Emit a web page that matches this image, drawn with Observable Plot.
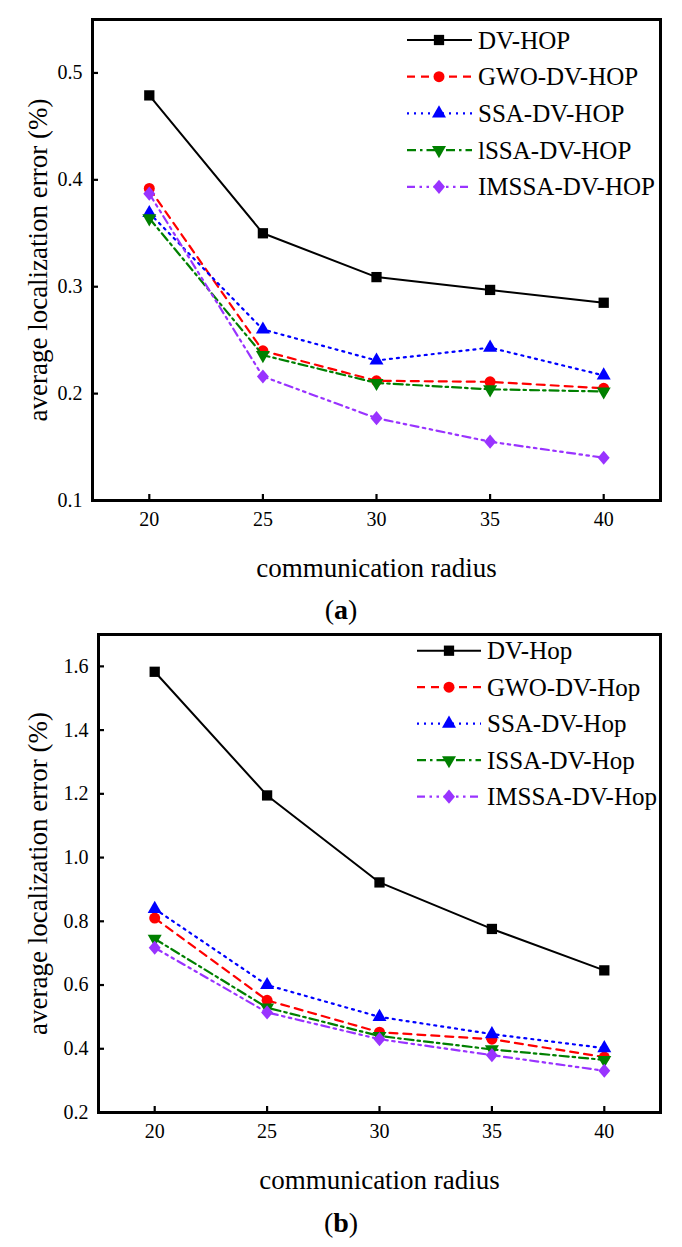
<!DOCTYPE html>
<html><head><meta charset="utf-8">
<script src="https://cdn.jsdelivr.net/npm/d3@7"></script>
<script src="https://cdn.jsdelivr.net/npm/@observablehq/plot@0.6"></script>
<style>
body{margin:0;background:#fff;}
.cap{width:682px;text-align:center;font-size:28px;font-family:"Liberation Serif",serif;color:#000}
</style></head><body>
<div id="a"></div><div class="cap" style="height:36px;line-height:36px">(<b>a</b>)</div>
<div id="b"></div><div class="cap" style="height:40px;line-height:40px">(<b>b</b>)</div>
<script>
// ---- data ----
const radius = [20, 25, 30, 35, 40];
const namesA = ["DV-HOP", "GWO-DV-HOP", "SSA-DV-HOP", "lSSA-DV-HOP", "IMSSA-DV-HOP"];
const namesB = ["DV-Hop", "GWO-DV-Hop", "SSA-DV-Hop", "ISSA-DV-Hop", "IMSSA-DV-Hop"];
const dvA    = [0.479, 0.350, 0.309, 0.297, 0.285];
const gwoA   = [0.392, 0.240, 0.212, 0.211, 0.205];
const ssaA   = [0.369, 0.260, 0.231, 0.243, 0.217];
const issaA  = [0.364, 0.236, 0.210, 0.204, 0.202];
const imssaA = [0.387, 0.216, 0.177, 0.155, 0.140];
const dvB    = [1.583, 1.195, 0.922, 0.776, 0.646];
const gwoB   = [0.810, 0.552, 0.452, 0.430, 0.374];
const ssaB   = [0.839, 0.600, 0.500, 0.446, 0.402];
const issaB  = [0.745, 0.529, 0.440, 0.398, 0.365];
const imssaB = [0.717, 0.514, 0.430, 0.380, 0.331];
const yTicksA = [0.1, 0.2, 0.3, 0.4, 0.5];
const yTicksB = [0.2, 0.4, 0.6, 0.8, 1.0, 1.2, 1.4, 1.6];
const xLabel = "communication radius";
const yLabel = "average localization error (%)";

// ---- styles ----
const sqrt3 = Math.sqrt(3);
const triDown = {draw(ctx, size) {
  const y = Math.sqrt(size / (sqrt3 * 3));
  ctx.moveTo(0, y * 2); ctx.lineTo(-sqrt3 * y, -y); ctx.lineTo(sqrt3 * y, -y); ctx.closePath();
}};
const diamond = {draw(ctx, size) {
  const h = Math.sqrt(size / 0.42);
  ctx.moveTo(0, -h / 2); ctx.lineTo(0.42 * h, 0); ctx.lineTo(0, h / 2); ctx.lineTo(-0.42 * h, 0); ctx.closePath();
}};
const styles = [
  {color: "#000000", dash: null, symbol: "square", r: 5.8, w: 2},
  {color: "#ff0000", dash: "8,6", symbol: "circle", r: 5.5, w: 2.2},
  {color: "#0000ff", dash: "2,5", symbol: "triangle", r: 5.2, w: 2.2},
  {color: "#008000", dash: "9,4,2.5,4", symbol: triDown, r: 5.2, w: 2.2},
  {color: "#9933ff", dash: "8,4.5,2.5,4.5,2.5,4.5", symbol: diamond, r: 5.2, w: 2.2}
];
const FONT = "Liberation Serif, serif";

function chart({names, series, yDomain, yTicks, height, marginTop, marginBottom, marginLeft, yTitleDx, legend}) {
  const marginRight = 22, width = 682;
  const innerH = height - marginTop - marginBottom;
  const innerW = width - marginLeft - marginRight;
  const marks = [
    Plot.axisX({ticks: radius, tickSize: 0, tickPadding: 11, label: null, fontSize: 20}),
    Plot.axisY({ticks: yTicks, tickSize: 0, tickPadding: 10, tickFormat: d3.format(".1f"), label: null, fontSize: 20}),
    Plot.tickX(radius, {strokeWidth: 2.2, insetTop: innerH - 6}),
    Plot.tickY(yTicks, {strokeWidth: 2.2, insetRight: innerW - 6}),
    Plot.text([xLabel], {frameAnchor: "bottom", dy: 68, fontSize: 27, textAnchor: "middle", lineAnchor: "middle"}),
    Plot.text([yLabel], {frameAnchor: "left", dx: yTitleDx, rotate: -90, fontSize: 27, textAnchor: "middle", lineAnchor: "middle"})
  ];
  series.forEach((vals, i) => {
    const s = styles[i];
    const data = radius.map((x, j) => ({x, y: vals[j]}));
    marks.push(Plot.line(data, {x: "x", y: "y", stroke: s.color, strokeWidth: s.w, strokeDasharray: s.dash}));
    marks.push(Plot.dot(data, {x: "x", y: "y", symbol: () => s.symbol, r: s.r, fill: s.color, stroke: "none"}));
  });
  marks.push(Plot.frame({strokeWidth: 3}));
  const svg = Plot.plot({
    width, height, marginTop, marginBottom, marginLeft, marginRight,
    style: {fontFamily: FONT, fontSize: "20px", color: "#000", background: "#fff"},
    x: {domain: [17.5, 42.5]},
    y: {domain: yDomain},
    symbol: {type: "identity"},
    marks
  });
  // legend
  const g = d3.select(svg).append("g").attr("font-family", FONT).attr("font-size", 25).attr("text-anchor", "start");
  names.forEach((name, i) => {
    const s = styles[i];
    const y = legend.y0 + i * legend.dy;
    g.append("line").attr("x1", legend.x1).attr("x2", legend.x2).attr("y1", y).attr("y2", y)
      .attr("stroke", s.color).attr("stroke-width", s.w).attr("stroke-dasharray", s.dash);
    const sym = typeof s.symbol === "string" ? {square: d3.symbolSquare, circle: d3.symbolCircle, triangle: d3.symbolTriangle}[s.symbol] : s.symbol;
    g.append("path").attr("transform", `translate(${legend.xm},${y})`)
      .attr("d", d3.symbol(sym, Math.PI * s.r * s.r)()).attr("fill", s.color);
    g.append("text").attr("x", legend.xt).attr("y", y).attr("dy", "0.34em").attr("fill", "#000")
      .attr("text-anchor", "start").text(name);
  });
  return svg;
}

document.getElementById("a").append(chart({
  names: namesA, series: [dvA, gwoA, ssaA, issaA, imssaA],
  yDomain: [0.1, 0.55], yTicks: yTicksA, height: 592, marginTop: 19, marginBottom: 92, marginLeft: 92, yTitleDx: -54,
  legend: {x1: 407, x2: 472, xm: 439, xt: 478, y0: 40, dy: 36.7}
}));
document.getElementById("b").append(chart({
  names: namesB, series: [dvB, gwoB, ssaB, issaB, imssaB],
  yDomain: [0.2, 1.7], yTicks: yTicksB, height: 575, marginTop: 6, marginBottom: 91, marginLeft: 98, yTitleDx: -60,
  legend: {x1: 417, x2: 481, xm: 449, xt: 487, y0: 22.7, dy: 36.5}
}));
</script>
</body></html>
